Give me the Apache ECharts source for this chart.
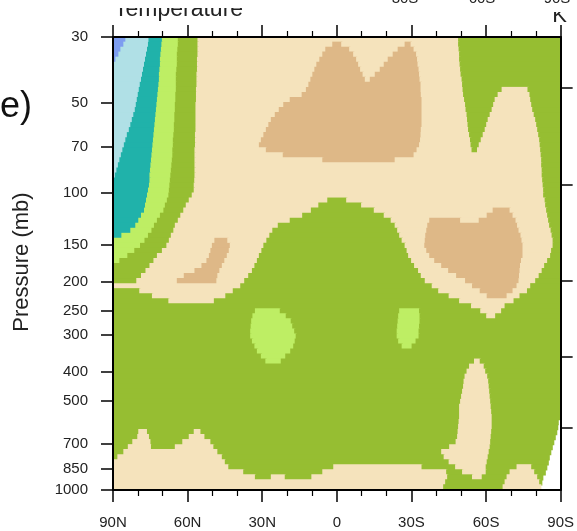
<!DOCTYPE html>
<html><head><meta charset="utf-8">
<script src="https://cdn.jsdelivr.net/npm/echarts@6/dist/echarts.min.js"></script>
<style>html,body{margin:0;padding:0;background:#fff}#c{width:577px;height:531px}</style>
</head><body><div id="c"></div>
<script>
// ---- axis ticks ----
const latTicks = [90, 60, 30, 0, -30, -60, -90];
const latTickLabels = ['90N', '60N', '30N', '0', '30S', '60S', '90S'];
const pressureTicks = [30, 50, 70, 100, 150, 200, 250, 300, 400, 500, 700, 850, 1000];
const heightTickPressures = [44.6, 94, 198, 357, 619];

// ---- contour classes (0 blue,1 cyan,2 teal,3 light green,4 green,5 wheat,6 tan, 9 = no data) ----
const classColors = ['#7D9DF0', '#B0E0E6', '#20B2AA', '#BEEE64', '#96BE32', '#F5E3BC', '#DEB887'];

// pressure rows (mb), top to bottom
const levels = [30.6, 31.9, 33.1, 34.4, 35.8, 37.2, 38.7, 40.2, 41.8, 43.5, 45.2, 47.0, 48.9, 50.8, 52.9,
  54.9, 57.1, 59.4, 61.7, 64.2, 66.8, 69.4, 72.2, 75.0, 78.0, 81.1, 84.4, 87.7, 91.1, 94.8, 98.5, 102.4,
  106.5, 110.7, 115.1, 119.8, 124.5, 129.4, 134.6, 139.9, 145.4, 151.3, 157.3, 163.5, 170.0, 176.7, 183.7,
  191.1, 198.7, 206.5, 214.8, 223.3, 232.1, 241.4, 250.9, 260.8, 271.4, 282.1, 293.2, 304.9, 317.0, 329.5,
  342.7, 356.2, 370.3, 385.2, 400.4, 416.2, 432.9, 450.0, 467.7, 486.6, 505.8, 525.8, 546.9, 568.5, 590.9,
  614.6, 638.9, 664.1, 690.9, 718.1, 746.4, 776.4, 807.0, 838.8, 872.8, 907.3, 943.0, 980.8];

// each row: class, eastern edge latitude, class, eastern edge latitude ... starting at 90N
const rowSegments = [
  [0,84.8, 1,75.5, 2,70.1, 3,63.7, 4,55.8, 5,-49, 4,-90],
  [0,85.6, 1,75.7, 2,70.3, 3,63.7, 4,55.8, 5,1.6, 6,-2, 5,-27.5, 6,-29.9, 5,-49, 4,-90],
  [0,86.8, 1,76.1, 2,70.5, 3,63.9, 4,55.8, 5,4.4, 6,-5.2, 5,-24.7, 6,-31.1, 5,-49.2, 4,-90],
  [0,87.6, 1,76.5, 2,70.7, 3,64.1, 4,55.8, 5,5.6, 6,-6.8, 5,-22.7, 6,-32.1, 5,-49.4, 4,-90],
  [0,88.8, 1,76.9, 2,70.9, 3,64.1, 4,56, 5,6.8, 6,-8, 5,-20.7, 6,-32.5, 5,-49.4, 4,-90],
  [1,77.3, 2,70.9, 3,64.1, 4,56, 5,8, 6,-8.8, 5,-19.1, 6,-32.7, 5,-49.6, 4,-90],
  [1,77.7, 2,71.1, 3,64.3, 4,56, 5,8.8, 6,-9.6, 5,-17.5, 6,-33.1, 5,-49.8, 4,-90],
  [1,78.1, 2,71.3, 3,64.5, 4,56.2, 5,9.6, 6,-10.6, 5,-15.5, 6,-33.3, 5,-50, 4,-90],
  [1,78.5, 2,71.3, 3,64.5, 4,56.2, 5,10.4, 6,-11.5, 5,-13.5, 6,-33.5, 5,-50.4, 4,-90],
  [1,79, 2,71.5, 3,64.5, 4,56.2, 5,11.2, 6,-33.9, 5,-50.6, 4,-90],
  [1,79.4, 2,71.7, 3,64.5, 4,56.4, 5,12.2, 6,-33.9, 5,-50.8, 4,-66.5, 5,-76.9, 4,-90],
  [1,79.8, 2,71.9, 3,64.7, 4,56.4, 5,13.9, 6,-34, 5,-51, 4,-64.9, 5,-77.7, 4,-90],
  [1,80.2, 2,72.1, 3,64.7, 4,56.4, 5,18.7, 6,-34.3, 5,-51.4, 4,-63.7, 5,-78, 4,-90],
  [1,80.6, 2,72.3, 3,64.9, 4,56.6, 5,21.3, 6,-34.3, 5,-51.8, 4,-63.1, 5,-78.4, 4,-90],
  [1,81, 2,72.5, 3,64.9, 4,56.6, 5,23.1, 6,-34.3, 5,-52, 4,-62.5, 5,-78.8, 4,-90],
  [1,81.6, 2,72.7, 3,65.1, 4,56.6, 5,24.7, 6,-34.3, 5,-52.4, 4,-61.7, 5,-79.4, 4,-90],
  [1,82.2, 2,72.9, 3,65.1, 4,56.6, 5,26.3, 6,-34.3, 5,-52.6, 4,-60.9, 5,-80, 4,-90],
  [1,82.8, 2,73.1, 3,65.3, 4,56.6, 5,27.3, 6,-34.3, 5,-52.8, 4,-60.3, 5,-80.4, 4,-90],
  [1,83.4, 2,73.3, 3,65.3, 4,56.6, 5,28.3, 6,-34, 5,-53, 4,-59.7, 5,-80.8, 4,-90],
  [1,84.2, 2,73.5, 3,65.5, 4,56.8, 5,29.3, 6,-33.9, 5,-53.4, 4,-58.9, 5,-81.2, 4,-90],
  [1,84.8, 2,73.7, 3,65.7, 4,56.8, 5,30.3, 6,-33.7, 5,-53.8, 4,-58.1, 5,-81.6, 4,-90],
  [1,85.4, 2,73.9, 3,65.7, 4,56.8, 5,31.1, 6,-33.3, 5,-54, 4,-57.3, 5,-81.8, 4,-90],
  [1,86, 2,74.1, 3,65.9, 4,57, 5,28.3, 6,-32.3, 5,-54.4, 4,-56.6, 5,-82, 4,-90],
  [1,86.6, 2,74.3, 3,65.9, 4,57, 5,21.5, 6,-31.1, 5,-82.2, 4,-90],
  [1,87.2, 2,74.5, 3,66.1, 4,57, 5,5.6, 6,-23.5, 5,-82.4, 4,-90],
  [1,87.8, 2,74.7, 3,66.3, 4,57, 5,-82.4, 4,-90],
  [1,88.4, 2,74.9, 3,66.5, 4,57, 5,-82.6, 4,-90],
  [1,89, 2,75.1, 3,66.7, 4,57, 5,-82.6, 4,-90],
  [1,89.6, 2,75.1, 3,66.9, 4,57.1, 5,-82.8, 4,-90],
  [2,75.3, 3,67.1, 4,57.3, 5,-83, 4,-90],
  [2,75.7, 3,67.3, 4,57.3, 5,-83.2, 4,-90],
  [2,76.1, 3,67.5, 4,58.1, 5,-83.2, 4,-90],
  [2,76.5, 3,68.1, 4,59.3, 5,3.6, 4,-4, 5,-83.8, 4,-90],
  [2,76.9, 3,68.9, 4,60.5, 5,7.2, 4,-10, 5,-84, 4,-90],
  [2,77.3, 3,69.5, 4,61.5, 5,10.2, 4,-15.1, 5,-62.9, 6,-69.7, 5,-84.4, 4,-90],
  [2,78.5, 3,70.9, 4,62.7, 5,13.7, 4,-19.1, 5,-60.5, 6,-70.9, 5,-84.8, 4,-90],
  [2,79.6, 3,72.1, 4,63.7, 5,18.7, 4,-21.9, 5,-37.4, 6,-49.8, 5,-57.3, 6,-72.1, 5,-85.2, 4,-90],
  [2,80.8, 3,73.3, 4,64.9, 5,23.5, 4,-23.5, 5,-36.6, 6,-72.7, 5,-85.6, 4,-90],
  [2,82.8, 3,74.3, 4,65.5, 5,25.7, 4,-24.5, 5,-36.2, 6,-73.3, 5,-86.2, 4,-90],
  [2,86.4, 3,75.7, 4,66.5, 5,26.9, 4,-25.3, 5,-35.8, 6,-74.1, 5,-86.6, 4,-90],
  [3,77.1, 4,67.3, 5,49, 6,43.8, 5,28.1, 4,-26.3, 5,-35.6, 6,-74.5, 5,-87, 4,-90],
  [3,78.9, 4,68.3, 5,50, 6,42.8, 5,29.3, 4,-27.5, 5,-35.4, 6,-74.9, 5,-87, 4,-90],
  [3,81.2, 4,70.1, 5,50.6, 6,43.2, 5,30.1, 4,-28.3, 5,-36.2, 6,-74.9, 5,-86.4, 4,-90],
  [3,84, 4,72.1, 5,51.2, 6,44, 5,31.1, 4,-28.9, 5,-37.4, 6,-74.9, 5,-86, 4,-90],
  [3,87.2, 4,73.5, 5,52.2, 6,45, 5,31.9, 4,-30.1, 5,-39.4, 6,-74.3, 5,-84.8, 4,-90],
  [4,75.1, 5,54.2, 6,46, 5,32.9, 4,-31.3, 5,-42.2, 6,-73.9, 5,-83.6, 4,-90],
  [4,76.7, 5,57, 6,47, 5,33.9, 4,-32.9, 5,-45, 6,-73.7, 5,-82.6, 4,-90],
  [4,78.5, 5,61.3, 6,47.8, 5,35.4, 4,-34, 5,-48.2, 6,-73.5, 5,-81.4, 4,-90],
  [4,80.4, 5,64.1, 6,48.2, 5,37, 4,-35.6, 5,-51.8, 6,-73.3, 5,-80, 4,-90],
  [5,38.6, 4,-38.4, 5,-54.6, 6,-72.5, 5,-78, 4,-90],
  [4,79.2, 5,41.6, 4,-41, 5,-57.7, 6,-70.9, 5,-76.7, 4,-90],
  [4,74.1, 5,44.6, 4,-45.2, 5,-60.5, 6,-68.5, 5,-73.7, 4,-90],
  [4,67.5, 5,49.2, 4,-49.4, 5,-71.3, 4,-90],
  [4,-54.2, 5,-67.7, 4,-90],
  [4,32.7, 3,22.7, 4,-25.3, 3,-33.3, 4,-57.9, 5,-66.3, 4,-90],
  [4,33.7, 3,20.3, 4,-24.9, 3,-33.5, 4,-60.3, 5,-63.9, 4,-90],
  [4,34.2, 3,18.3, 4,-24.7, 3,-33.5, 4,-90],
  [4,34.4, 3,17.7, 4,-24.5, 3,-33.3, 4,-90],
  [4,34.6, 3,16.9, 4,-24.3, 3,-33.1, 4,-90],
  [4,34.6, 3,16.3, 4,-24.3, 3,-33.1, 4,-90],
  [4,33.9, 3,16.7, 4,-24.9, 3,-31.9, 4,-90],
  [4,32.9, 3,17.3, 4,-26.3, 3,-30.3, 4,-90],
  [4,31.9, 3,18.5, 4,-90],
  [4,30.3, 3,20.5, 4,-90],
  [4,28.5, 3,22.3, 4,-55.4, 5,-57.7, 4,-90],
  [4,-53.4, 5,-59.3, 4,-90],
  [4,-52.4, 5,-59.9, 4,-90],
  [4,-51.6, 5,-60.7, 4,-90],
  [4,-51.2, 5,-61.1, 4,-90],
  [4,-51, 5,-61.3, 4,-90],
  [4,-50.6, 5,-61.5, 4,-90],
  [4,-50.2, 5,-61.7, 4,-90],
  [4,-49.8, 5,-61.9, 4,-90],
  [4,-49.4, 5,-62.1, 4,-90],
  [4,-49.4, 5,-62.3, 4,-90],
  [4,-49.4, 5,-62.5, 4,-90],
  [4,-49.2, 5,-62.5, 4,-89, 9,-90],
  [4,-49, 5,-62.5, 4,-88.8, 9,-90],
  [4,79.6, 5,76.1, 4,57.3, 5,54.6, 4,-48.8, 5,-62.3, 4,-88.4, 9,-90],
  [4,80, 5,75.3, 4,59.3, 5,53, 4,-48.6, 5,-62.1, 4,-87.8, 9,-90],
  [4,82, 5,74.7, 4,61.9, 5,50.6, 4,-48, 5,-61.9, 4,-87.2, 9,-90],
  [4,83.8, 5,74.5, 4,64.9, 5,49.4, 4,-45.4, 5,-61.7, 4,-86.6, 9,-90],
  [4,85.6, 5,47.8, 4,-42.2, 5,-61.3, 4,-86, 9,-90],
  [4,88, 5,46, 4,-43.2, 5,-60.9, 4,-85.4, 9,-90],
  [5,44.8, 4,-45.2, 5,-60.5, 4,-85, 9,-90],
  [5,43.4, 4,1.2, 5,-34.3, 4,-47.8, 5,-60.1, 4,-72.5, 5,-78.4, 4,-84.4, 9,-90],
  [5,37.4, 4,5.6, 5,-44.2, 4,-50.6, 5,-60.1, 4,-69.7, 5,-79.6, 4,-83.8, 9,-90],
  [5,32.7, 4,26.3, 5,20.7, 4,10, 5,-44.6, 4,-54.6, 5,-58.5, 4,-68.5, 5,-80.8, 4,-82.8, 9,-90],
  [5,-43.8, 4,-67.7, 5,-81.6, 4,-82.4, 9,-90],
  [5,-43, 4,-66.9, 5,-82, 9,-90]
];

// ---- build cells ----
const cells = [];
rowSegments.forEach((segs, i) => {
  const pTop = i === 0 ? 30 : Math.sqrt(levels[i - 1] * levels[i]);
  const pBot = i === levels.length - 1 ? 1000 : Math.sqrt(levels[i] * levels[i + 1]);
  let west = 90;
  for (let k = 0; k < segs.length; k += 2) {
    const cls = segs[k], east = segs[k + 1];
    if (cls !== 9) cells.push([west, east, Math.log10(pTop), Math.log10(pBot), cls]);
    west = east;
  }
});

const FONT = '"Liberation Sans", Arial, Helvetica, sans-serif';
const yMin = Math.log10(30), yMax = 3;
const lineStyle = { color: '#000', width: 2 };
const tickStyle = { color: '#000', width: 1.5 };

const chart = echarts.init(document.getElementById('c'), null, { renderer: 'canvas' });
chart.setOption({
  animation: false,
  backgroundColor: '#fff',
  grid: { left: 113, right: 12, top: 37, bottom: 41 },
  xAxis: [
    {
      type: 'value', position: 'bottom', min: -90, max: 90, interval: 30, inverse: true, z: 10,
      axisLine: { show: true, onZero: false, lineStyle },
      splitLine: { show: false },
      axisTick: { show: true, inside: false, length: 12, lineStyle: tickStyle },
      minorTick: { show: true, splitNumber: 3, length: 6, lineStyle: { color: '#000', width: 1.2 } },
      axisLabel: { margin: 25, fontSize: 15, color: '#222', fontFamily: FONT,
        formatter: v => latTickLabels[latTicks.indexOf(v)] }
    },
    {
      type: 'value', position: 'top', min: -90, max: 90, interval: 30, inverse: true, z: 10,
      axisLine: { show: true, onZero: false, lineStyle },
      splitLine: { show: false },
      axisTick: { show: true, inside: false, length: 12, lineStyle: tickStyle },
      minorTick: { show: true, splitNumber: 3, length: 6, lineStyle: { color: '#000', width: 1.2 } },
      axisLabel: { show: false }
    }
  ],
  yAxis: [
    {
      type: 'value', position: 'left', min: yMin, max: yMax, inverse: true, z: 10,
      axisLine: { show: true, onZero: false, lineStyle },
      splitLine: { show: false },
      axisTick: { show: true, inside: false, length: 12, lineStyle: tickStyle,
        customValues: pressureTicks.map(p => Math.log10(p)) },
      axisLabel: { margin: 25, fontSize: 15, color: '#222', fontFamily: FONT,
        customValues: pressureTicks.map(p => Math.log10(p)),
        formatter: v => String(Math.round(Math.pow(10, v))) }
    },
    {
      type: 'value', position: 'right', min: yMin, max: yMax, inverse: true, z: 10,
      axisLine: { show: true, onZero: false, lineStyle },
      splitLine: { show: false },
      axisTick: { show: true, inside: false, length: 12, lineStyle: tickStyle,
        customValues: heightTickPressures.map(p => Math.log10(p)) },
      axisLabel: { show: false }
    }
  ],
  series: [{
    type: 'custom',
    xAxisIndex: 0, yAxisIndex: 0,
    clip: true,
    encode: { x: [0, 1], y: [2, 3] },
    data: cells,
    renderItem: (params, api) => {
      const a = api.coord([api.value(0), api.value(2)]);
      const b = api.coord([api.value(1), api.value(3)]);
      return {
        type: 'rect',
        shape: { x: Math.min(a[0], b[0]) - 0.6, y: Math.min(a[1], b[1]) - 0.6,
          width: Math.abs(b[0] - a[0]) + 1.2, height: Math.abs(b[1] - a[1]) + 1.2 },
        style: { fill: classColors[api.value(4)] }
      };
    }
  }],
  graphic: [
    { type: 'text', z: 100, x: 114, y: 21.5,
      style: { text: 'Temperature', font: '23px ' + FONT, fill: '#222', textAlign: 'left', textVerticalAlign: 'bottom' } },
    { type: 'text', z: 100, x: 567, y: 27,
      style: { text: 'K', font: '22px ' + FONT, fill: '#222', textAlign: 'right', textVerticalAlign: 'bottom' } },
    { type: 'rect', z: 101, shape: { x: 100, y: 0, width: 220, height: 8 }, style: { fill: '#fff' } },
    { type: 'rect', z: 101, shape: { x: 540, y: 0, width: 37, height: 12 }, style: { fill: '#fff' } },
    { type: 'text', z: 102, x: 405, y: 6, style: { text: '30S', font: '15px ' + FONT, fill: '#222', textAlign: 'center', textVerticalAlign: 'bottom' } },
    { type: 'text', z: 102, x: 482, y: 6, style: { text: '60S', font: '15px ' + FONT, fill: '#222', textAlign: 'center', textVerticalAlign: 'bottom' } },
    { type: 'text', z: 102, x: 557, y: 6, style: { text: '90S', font: '15px ' + FONT, fill: '#222', textAlign: 'center', textVerticalAlign: 'bottom' } },
    { type: 'text', z: 100, x: 0, y: 125,
      style: { text: 'e)', font: '36px ' + FONT, fill: '#111', textAlign: 'left', textVerticalAlign: 'bottom' } },
    { type: 'text', z: 100, x: 22, y: 262, rotation: Math.PI / 2,
      style: { text: 'Pressure (mb)', font: '22px ' + FONT, fill: '#222', textAlign: 'center', textVerticalAlign: 'middle' } }
  ]
});
</script>
</body></html>
